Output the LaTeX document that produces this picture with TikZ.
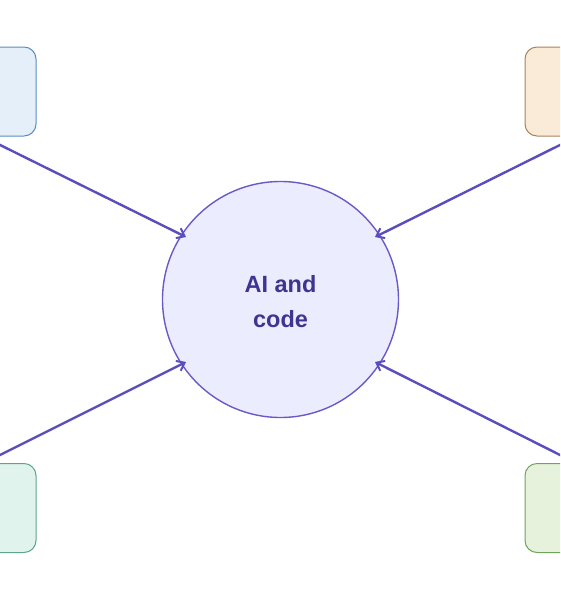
\documentclass[tikz,border=0pt]{standalone}
\usepackage{fontspec}
\setmainfont{Liberation Sans}
\usetikzlibrary{arrows.meta,calc}
\definecolor{cfill}{HTML}{ECECFF}
\definecolor{cstroke}{HTML}{6A5AC8}
\definecolor{arrowc}{HTML}{5A4DBE}
\definecolor{textc}{HTML}{3D3590}
\definecolor{tlfill}{HTML}{E4EFFA}\definecolor{tlstroke}{HTML}{5B8DC0}
\definecolor{trfill}{HTML}{FAEBD8}\definecolor{trstroke}{HTML}{A8845A}
\definecolor{blfill}{HTML}{E0F3EC}\definecolor{blstroke}{HTML}{5FA58A}
\definecolor{brfill}{HTML}{E7F2DC}\definecolor{brstroke}{HTML}{70A35C}
\tikzset{
  cornerbox/.style={draw, line width=1pt, rounded corners=12pt, minimum width=90pt, minimum height=89pt, inner sep=0pt},
  link/.style={draw=arrowc, line width=2.4pt, -{Straight Barb[length=7pt,width=11pt,line width=2pt]}},
}
\begin{document}
\begin{tikzpicture}[x=1pt,y=-1pt]
\useasboundingbox (0,0) rectangle (560,600);
\clip (0,0) rectangle (560,600);
\fill[white] (0,0) rectangle (560,600);
\node[cornerbox, fill=tlfill, draw=tlstroke] (tl) at (-9,91.5) {};
\node[cornerbox, fill=trfill, draw=trstroke] (tr) at (570,91.5) {};
\node[cornerbox, fill=blfill, draw=blstroke] (bl) at (-9,508) {};
\node[cornerbox, fill=brfill, draw=brstroke] (br) at (570,508) {};
\node[circle, draw=cstroke, fill=cfill, line width=1.4pt, minimum size=236pt, inner sep=0pt] (c) at (280.5,299.5) {};
\node[align=center, text=textc, font=\fontsize{23.5}{35}\selectfont\bfseries] (t) at (280.5,302) {AI and\\code};
\coordinate (s1) at (-10,140);
\coordinate (s2) at (570,140);
\coordinate (s3) at (-10,460);
\coordinate (s4) at (570,460);
\draw[link] (s1) -- ($(c.center)+(-94.5,-62.5)$);
\draw[link] (s2) -- ($(c.center)+(94.5,-62.5)$);
\draw[link] (s3) -- ($(c.center)+(-94.5,62.5)$);
\draw[link] (s4) -- ($(c.center)+(94.5,62.5)$);
\end{tikzpicture}
\end{document}
